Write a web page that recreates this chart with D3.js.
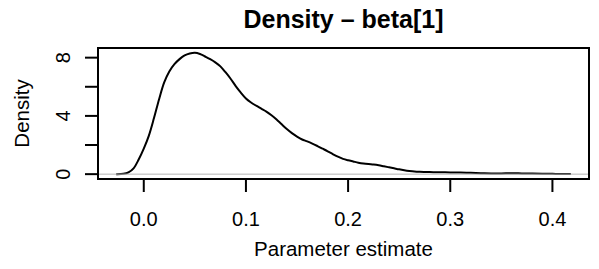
<!DOCTYPE html>
<html>
<head>
<meta charset="utf-8">
<script src="https://cdn.jsdelivr.net/npm/d3@7"></script>
<style>
  body { margin: 0; background: #fff; }
  svg { display: block; font-family: "Liberation Sans", Arial, sans-serif; }
</style>
</head>
<body>
<svg id="chart" width="599" height="269"></svg>
<script>
// density estimate
const estX = [-0.027, -0.02, -0.015, -0.01, -0.005, 0.0, 0.005, 0.01, 0.015, 0.02,
  0.025, 0.03, 0.035, 0.04, 0.045, 0.05, 0.055, 0.06, 0.065, 0.07,
  0.075, 0.08, 0.085, 0.09, 0.095, 0.10, 0.105, 0.11, 0.115, 0.12,
  0.125, 0.13, 0.135, 0.14, 0.145, 0.15, 0.155, 0.16, 0.165, 0.17,
  0.175, 0.18, 0.185, 0.19, 0.195, 0.20, 0.205, 0.21, 0.215, 0.22,
  0.225, 0.23, 0.235, 0.24, 0.245, 0.25, 0.255, 0.26, 0.265, 0.27,
  0.28, 0.29, 0.30, 0.31, 0.32, 0.33, 0.34, 0.35, 0.36, 0.37,
  0.38, 0.39, 0.40, 0.41, 0.418];
const estDensity = [0.0, 0.02, 0.12, 0.4, 1.0, 1.75, 2.65, 3.85, 5.15, 6.3,
  7.05, 7.55, 7.9, 8.15, 8.28, 8.33, 8.25, 8.08, 7.9, 7.68,
  7.4, 7.0, 6.55, 6.05, 5.6, 5.2, 4.92, 4.7, 4.5, 4.3,
  4.05, 3.75, 3.42, 3.1, 2.82, 2.58, 2.38, 2.25, 2.1, 1.93,
  1.75, 1.57, 1.38, 1.2, 1.05, 0.95, 0.87, 0.79, 0.73, 0.69,
  0.66, 0.61, 0.54, 0.47, 0.4, 0.33, 0.27, 0.22, 0.18, 0.16,
  0.14, 0.13, 0.12, 0.11, 0.09, 0.07, 0.05, 0.05, 0.06, 0.05,
  0.04, 0.03, 0.02, 0.01, 0.005];

const xTicks = [0.0, 0.1, 0.2, 0.3, 0.4];
const yTicks = [0, 2, 4, 6, 8];
const yTickLabels = [0, 4, 8]; // R drops the labels that would overlap

const svg = d3.select("#chart");
const box = { left: 98, right: 589, top: 48, bottom: 179 };

// R style axis range: data range + 4% each side
const pad = (ext) => {
  const d = (ext[1] - ext[0]) * 0.04;
  return [ext[0] - d, ext[1] + d];
};
const x = d3.scaleLinear().domain(pad(d3.extent(estX))).range([box.left, box.right]);
const y = d3.scaleLinear().domain(pad([0, d3.max(estDensity)])).range([box.bottom, box.top]);

const pts = estX.map((v, i) => [v, estDensity[i]]);

// curve
svg.append("path")
  .datum(pts)
  .attr("fill", "none")
  .attr("stroke", "#000")
  .attr("stroke-width", 2)
  .attr("stroke-linejoin", "round")
  .attr("d", d3.line().x(d => x(d[0])).y(d => y(d[1])).curve(d3.curveCatmullRom));

// zero line
svg.append("line")
  .attr("x1", box.left).attr("x2", box.right)
  .attr("y1", y(0)).attr("y2", y(0))
  .attr("stroke", "#b3b3b3").attr("stroke-width", 1);

// box
svg.append("rect")
  .attr("x", box.left).attr("y", box.top)
  .attr("width", box.right - box.left).attr("height", box.bottom - box.top)
  .attr("fill", "none").attr("stroke", "#000").attr("stroke-width", 2);

// x axis
const xAxis = svg.append("g");
xAxis.selectAll("line").data(xTicks).join("line")
  .attr("x1", d => x(d)).attr("x2", d => x(d))
  .attr("y1", box.bottom).attr("y2", box.bottom + 13)
  .attr("stroke", "#000").attr("stroke-width", 2);
xAxis.selectAll("text").data(xTicks).join("text")
  .attr("x", d => x(d)).attr("y", 225.5)
  .attr("text-anchor", "middle")
  .attr("font-size", 20)
  .text(d => d.toFixed(1));

// y axis
const yAxis = svg.append("g");
yAxis.selectAll("line").data(yTicks).join("line")
  .attr("x1", box.left - 13).attr("x2", box.left)
  .attr("y1", d => y(d)).attr("y2", d => y(d))
  .attr("stroke", "#000").attr("stroke-width", 2);
yAxis.selectAll("text").data(yTickLabels).join("text")
  .attr("transform", d => `translate(69.5,${y(d)}) rotate(-90)`)
  .attr("text-anchor", "middle")
  .attr("font-size", 20)
  .text(d => d);

// labels
const cx = (box.left + box.right) / 2;
svg.append("text")
  .attr("x", cx).attr("y", 27.5)
  .attr("text-anchor", "middle")
  .attr("font-size", 25)
  .attr("font-weight", "bold")
  .text("Density \u2013 beta[1]");

svg.append("text")
  .attr("x", cx).attr("y", 255.5)
  .attr("text-anchor", "middle")
  .attr("font-size", 20.5)
  .text("Parameter estimate");

svg.append("text")
  .attr("transform", `translate(28.5,${(box.top + box.bottom) / 2}) rotate(-90)`)
  .attr("text-anchor", "middle")
  .attr("font-size", 20.5)
  .text("Density");
</script>
</body>
</html>
